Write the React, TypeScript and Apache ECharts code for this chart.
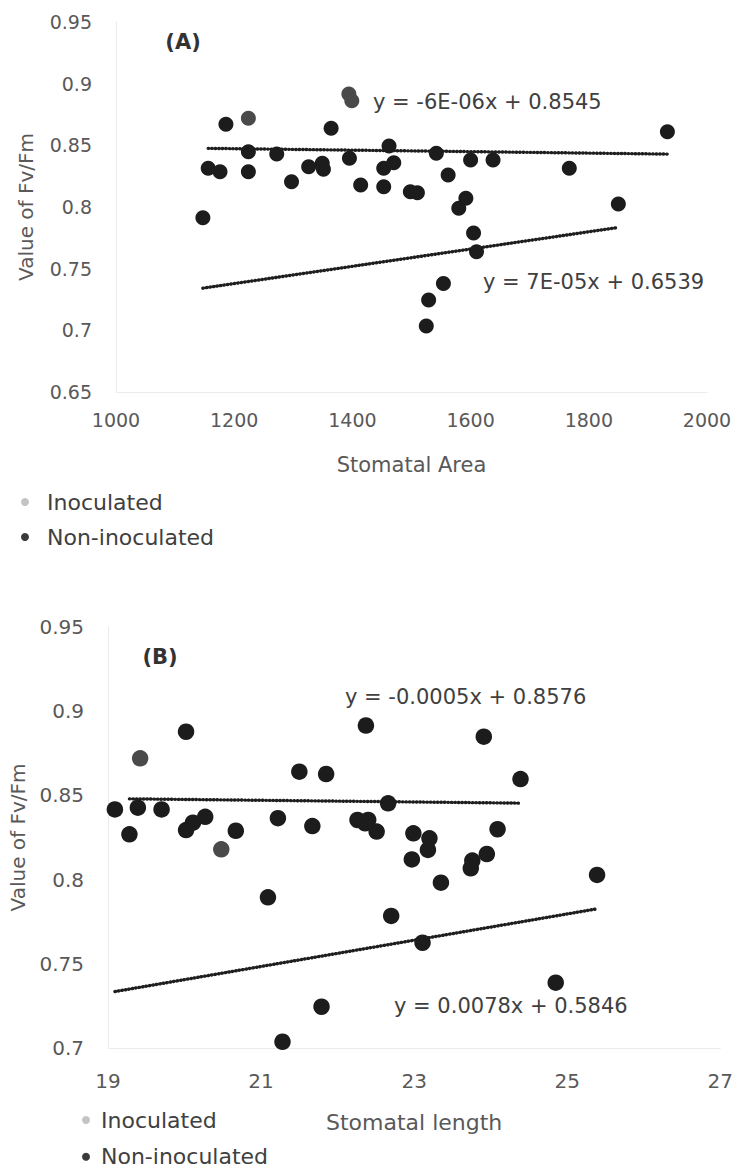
import React, { useEffect, useRef } from "react";
import * as echarts from "echarts";

// ---------- Panel A: Stomatal Area ----------
const A_X_TICKS = [1000, 1200, 1400, 1600, 1800, 2000];
const A_Y_TICKS = [0.65, 0.7, 0.75, 0.8, 0.85, 0.9, 0.95];

const A_NONINOC: [number, number][] = [
  [1156, 0.8314], [1176, 0.8286], [1186, 0.867], [1224, 0.8448], [1224, 0.8286],
  [1272, 0.843], [1297, 0.8205], [1326, 0.8327], [1349, 0.8354], [1351, 0.8306],
  [1364, 0.8638], [1395, 0.8395], [1414, 0.8178], [1453, 0.8314], [1462, 0.8495],
  [1470, 0.8359], [1453, 0.8165], [1498, 0.8124], [1510, 0.8116], [1542, 0.8435],
  [1562, 0.826], [1600, 0.8381], [1638, 0.8381], [1767, 0.8314], [1933, 0.861],
];
const A_NONINOC_LIGHT: [number, number][] = [
  [1224, 0.8719], [1394, 0.8916], [1399, 0.8862],
];
const A_INOC: [number, number][] = [
  [1147, 0.7913], [1525, 0.7035], [1529, 0.7246], [1554, 0.738], [1580, 0.799],
  [1592, 0.807], [1605, 0.779], [1610, 0.7638], [1850, 0.8024],
];
const A_FIT_NONINOC = [-6e-6, 0.8545];
const A_FIT_INOC = [7e-5, 0.6539];
const A_EQ_TEXT = ["y = -6E-06x + 0.8545", "y = 7E-05x + 0.6539"];

// ---------- Panel B: Stomatal length ----------
const B_X_TICKS = [19, 21, 23, 25, 27];
const B_Y_TICKS = [0.7, 0.75, 0.8, 0.85, 0.9, 0.95];

const B_NONINOC: [number, number][] = [
  [19.28, 0.8269], [19.39, 0.8427], [19.7, 0.8417], [20.02, 0.8878], [20.02, 0.8294],
  [20.11, 0.8338], [20.27, 0.8373], [20.67, 0.829], [21.22, 0.8365], [21.5, 0.8641],
  [21.67, 0.8318], [21.85, 0.8627], [22.26, 0.8354], [22.36, 0.8334], [22.37, 0.8915],
  [22.4, 0.8354], [22.51, 0.8285], [22.66, 0.8453], [22.97, 0.812], [22.99, 0.8275],
  [23.18, 0.8176], [23.2, 0.8245], [23.74, 0.8067], [23.76, 0.8113], [23.91, 0.8849],
  [23.95, 0.8152], [24.09, 0.8299], [24.39, 0.8597],
];
const B_NONINOC_LIGHT: [number, number][] = [
  [19.42, 0.872], [20.48, 0.818],
];
const B_INOC: [number, number][] = [
  [19.09, 0.8417], [21.09, 0.7895], [21.28, 0.7037], [21.79, 0.7245], [22.7, 0.7784],
  [23.11, 0.7625], [23.35, 0.7982], [24.85, 0.7388], [25.39, 0.8028],
];
const B_FIT_NONINOC = [-0.0005, 0.8576];
const B_FIT_INOC = [0.0078, 0.5846];
const B_EQ_TEXT = ["y = -0.0005x + 0.8576", "y = 0.0078x + 0.5846"];

const SERIES_NAMES = ["Inoculated", "Non-inoculated"];
const AXIS_TITLES = ["Value of Fv/Fm", "Stomatal Area", "Stomatal length"];
const PANEL_TAGS = ["(A)", "(B)"];

const FONT = '"DejaVu Sans", sans-serif';
const DOT = "#1c1c1c";
const DOT_LIGHT = "#4a4a4a";

function fitLine(points: [number, number][], fit: number[]) {
  const xs = points.map((p) => p[0]);
  const lo = Math.min(...xs);
  const hi = Math.max(...xs);
  return [
    [lo, fit[0] * lo + fit[1]],
    [hi, fit[0] * hi + fit[1]],
  ];
}

function axisRange(ticks: number[]) {
  return { min: ticks[0], max: ticks[ticks.length - 1], interval: +(ticks[1] - ticks[0]).toFixed(6) };
}

export default function App() {
  const ref = useRef<HTMLDivElement>(null);

  useEffect(() => {
    if (!ref.current) return;
    const chart = echarts.init(ref.current, null, { renderer: "svg" });

    const tickLabel = (size: number, margin: number) => ({
      color: "#595959",
      fontSize: size,
      fontFamily: FONT,
      margin,
      formatter: (v: number) => String(v),
    });
    const faintLine = { show: true, lineStyle: { color: "#ebebeb", width: 1 } };
    const trendStyle = { color: "#1e1e1e", width: 3.4, type: [0.5, 3.0] as number[], cap: "round" };

    const scatter = (
      name: string,
      idx: number,
      pts: [number, number][],
      light: [number, number][],
      size: number
    ) => ({
      name,
      type: "scatter",
      xAxisIndex: idx,
      yAxisIndex: idx,
      symbolSize: size,
      z: 3,
      itemStyle: { color: DOT, opacity: 1 },
      data: [
        ...pts.map((p) => p),
        ...light.map((p) => ({ value: p, itemStyle: { color: DOT_LIGHT } })),
      ],
    });

    const trend = (name: string, idx: number, pts: [number, number][], fit: number[]) => ({
      name,
      type: "line",
      xAxisIndex: idx,
      yAxisIndex: idx,
      symbol: "none",
      z: 2,
      lineStyle: trendStyle,
      data: fitLine(pts, fit),
      silent: true,
    });

    const legendBase = {
      orient: "vertical",
      icon: "circle",
      itemHeight: 8,
      itemWidth: 20,
      padding: 0,
      height: 120,
      selectedMode: false,
      data: [
        { name: SERIES_NAMES[0], itemStyle: { color: "#c4c4c4" } },
        { name: SERIES_NAMES[1], itemStyle: { color: "#3a3a3a" } },
      ],
    };
    const legendText = (padLeft: number) => ({
      fontSize: 22,
      fontFamily: FONT,
      color: "#404040",
      lineHeight: 24,
      padding: [0, 0, 0, padLeft],
    });

    const eq = (text: string, x: number, y: number) => ({
      type: "text",
      x,
      y,
      style: {
        text,
        fill: "#404040",
        fontSize: 21,
        fontFamily: FONT,
        verticalAlign: "middle",
        align: "left",
      },
    });

    const tag = (text: string, x: number, y: number) => ({
      type: "text",
      x,
      y,
      style: {
        text,
        fill: "#333333",
        fontSize: 21,
        fontWeight: "bold",
        fontFamily: FONT,
        verticalAlign: "middle",
        align: "center",
      },
    });

    const option: any = {
      animation: false,
      backgroundColor: "#ffffff",
      grid: [
        { left: 116, top: 22, width: 591, height: 370 },
        { left: 104, top: 627, width: 618, height: 421 },
      ],
      xAxis: [
        {
          gridIndex: 0,
          type: "value",
          ...axisRange(A_X_TICKS),
          axisLine: faintLine,
          axisTick: { show: false },
          splitLine: { show: false },
          axisLabel: tickLabel(19, 18),
          name: AXIS_TITLES[1],
          nameLocation: "middle",
          nameGap: 62,
          nameTextStyle: { color: "#595959", fontSize: 21, fontFamily: FONT },
        },
        {
          gridIndex: 1,
          type: "value",
          ...axisRange(B_X_TICKS),
          axisLine: faintLine,
          axisTick: { show: false },
          splitLine: { show: false },
          axisLabel: tickLabel(20, 23),
          name: AXIS_TITLES[2],
          nameLocation: "middle",
          nameGap: 63,
          nameTextStyle: { color: "#595959", fontSize: 22, fontFamily: FONT },
        },
      ],
      yAxis: [
        {
          gridIndex: 0,
          type: "value",
          ...axisRange(A_Y_TICKS),
          axisLine: faintLine,
          axisTick: { show: false },
          splitLine: { show: false },
          axisLabel: tickLabel(19, 24),
          name: AXIS_TITLES[0],
          nameLocation: "middle",
          nameGap: 80,
          nameTextStyle: { color: "#595959", fontSize: 20, fontFamily: FONT },
        },
        {
          gridIndex: 1,
          type: "value",
          ...axisRange(B_Y_TICKS),
          axisLine: faintLine,
          axisTick: { show: false },
          splitLine: { show: false },
          axisLabel: tickLabel(20, 24),
          name: AXIS_TITLES[0],
          nameLocation: "middle",
          nameGap: 80,
          nameTextStyle: { color: "#595959", fontSize: 20, fontFamily: FONT },
        },
      ],
      legend: [
        { ...legendBase, left: 21, top: 490, itemGap: 11, textStyle: legendText(7) },
        { ...legendBase, left: 82, top: 1108, itemGap: 12.7, textStyle: legendText(0) },
      ],
      series: [
        trend("fit-A-non", 0, [...A_NONINOC, ...A_NONINOC_LIGHT], A_FIT_NONINOC),
        trend("fit-A-inoc", 0, A_INOC, A_FIT_INOC),
        scatter(SERIES_NAMES[1], 0, A_NONINOC, A_NONINOC_LIGHT, 15),
        scatter(SERIES_NAMES[0], 0, A_INOC, [], 15),
        trend("fit-B-non", 1, [...B_NONINOC, ...B_NONINOC_LIGHT], B_FIT_NONINOC),
        trend("fit-B-inoc", 1, B_INOC, B_FIT_INOC),
        scatter(SERIES_NAMES[1], 1, B_NONINOC, B_NONINOC_LIGHT, 16.5),
        scatter(SERIES_NAMES[0], 1, B_INOC, [], 16.5),
      ],
      graphic: [
        tag(PANEL_TAGS[0], 183, 42),
        tag(PANEL_TAGS[1], 160, 657),
        eq(A_EQ_TEXT[0], 373, 102),
        eq(A_EQ_TEXT[1], 483, 282),
        eq(B_EQ_TEXT[0], 345, 697),
        eq(B_EQ_TEXT[1], 394, 1006),
      ],
    };

    chart.setOption(option);
    return () => chart.dispose();
  }, []);

  return (
    <div
      ref={ref}
      style={{ position: "absolute", left: 0, top: 0, width: 736, height: 1172, background: "#fff" }}
    />
  );
}
